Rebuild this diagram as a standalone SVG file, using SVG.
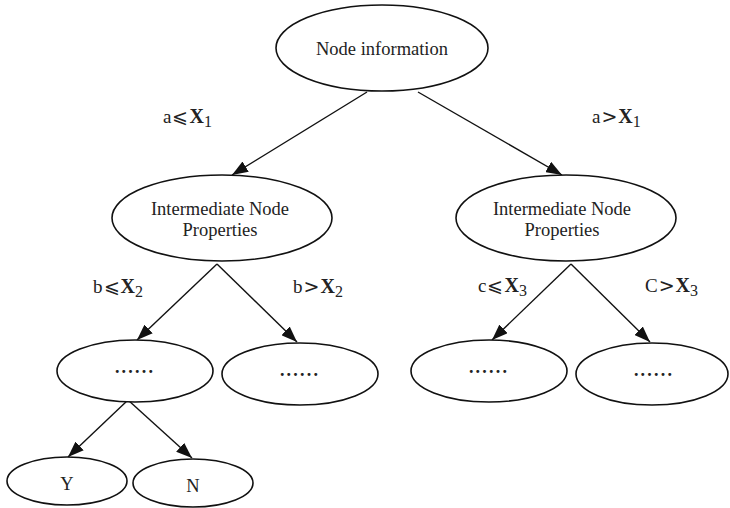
<svg xmlns="http://www.w3.org/2000/svg" width="730" height="508" viewBox="0 0 730 508">
  <defs>
    <marker id="arrow" markerUnits="userSpaceOnUse" markerWidth="16" markerHeight="12" refX="16" refY="6" orient="auto">
      <path d="M0,0 L16,6 L0,12 z" fill="#111"/>
    </marker>
  </defs>
  <style>
    ellipse { fill: #fff; stroke: #111; stroke-width: 1.6; }
    .lbl { font-family: "Liberation Serif", "Times New Roman", serif; font-size: 18.5px; fill: #222; text-anchor: middle; }
    .dots { font-family: "Liberation Serif", serif; font-size: 18px; font-weight: bold; fill: #222; text-anchor: middle; letter-spacing: 2.2px; }
    .cond { font-family: "Liberation Serif", "DejaVu Serif", "DejaVu Sans", serif; font-size: 19px; fill: #222; }
    .rel { font-family: "DejaVu Serif", "DejaVu Sans", serif; font-size: 19px; font-weight: 300; }
    .var { font-weight: bold; font-size: 20px; }
    .sub { font-size: 16px; }
    .edges line { stroke: #111; stroke-width: 1.4; marker-end: url(#arrow); }
  </style>

  <!-- connectors -->
  <g id="edges" class="edges">
    <line x1="367" y1="92" x2="232" y2="175"/>
    <line x1="418" y1="92" x2="562" y2="175"/>
    <line x1="217" y1="264" x2="137" y2="340"/>
    <line x1="217" y1="264" x2="297" y2="342"/>
    <line x1="571" y1="264" x2="492" y2="340"/>
    <line x1="571" y1="264" x2="650" y2="342"/>
    <line x1="128" y1="400" x2="68" y2="457"/>
    <line x1="128" y1="400" x2="192" y2="458"/>
  </g>

  <!-- branch conditions -->
  <g id="conditions" class="cond">
    <text x="163" y="123">a<tspan class="rel" dx="1">⩽</tspan><tspan class="var" dx="1">X</tspan><tspan class="sub" dy="4">1</tspan></text>
    <text x="592" y="123">a<tspan class="rel" dx="1">&gt;</tspan><tspan class="var" dx="1">X</tspan><tspan class="sub" dy="4">1</tspan></text>
    <text x="93" y="293">b<tspan class="rel" dx="1">⩽</tspan><tspan class="var" dx="1">X</tspan><tspan class="sub" dy="4">2</tspan></text>
    <text x="293" y="293">b<tspan class="rel" dx="1">&gt;</tspan><tspan class="var" dx="1">X</tspan><tspan class="sub" dy="4">2</tspan></text>
    <text x="478" y="292">c<tspan class="rel" dx="1">⩽</tspan><tspan class="var" dx="1">X</tspan><tspan class="sub" dy="4">3</tspan></text>
    <text x="645" y="292">C<tspan class="rel" dx="1">&gt;</tspan><tspan class="var" dx="1">X</tspan><tspan class="sub" dy="4">3</tspan></text>
  </g>

  <g id="root">
    <ellipse cx="382" cy="48" rx="106" ry="43"/>
    <text class="lbl" x="382" y="55">Node information</text>
  </g>

  <g id="mid-left">
    <ellipse cx="222" cy="218" rx="110" ry="43"/>
    <text class="lbl" x="220" y="215">Intermediate Node</text>
    <text class="lbl" x="220" y="236">Properties</text>
  </g>

  <g id="mid-right">
    <ellipse cx="566" cy="218" rx="110" ry="43"/>
    <text class="lbl" x="562" y="215">Intermediate Node</text>
    <text class="lbl" x="562" y="236">Properties</text>
  </g>

  <g id="leaf-ll">
    <ellipse cx="135" cy="371" rx="78" ry="31"/>
    <text class="dots" x="135" y="373">......</text>
  </g>

  <g id="leaf-lr">
    <ellipse cx="300" cy="374" rx="78" ry="31"/>
    <text class="dots" x="300" y="376">......</text>
  </g>

  <g id="leaf-rl">
    <ellipse cx="489" cy="371" rx="78" ry="31"/>
    <text class="dots" x="489" y="373">......</text>
  </g>

  <g id="leaf-rr">
    <ellipse cx="652" cy="374" rx="76" ry="31"/>
    <text class="dots" x="654" y="376">......</text>
  </g>

  <g id="yes">
    <ellipse cx="67" cy="481" rx="60" ry="24"/>
    <text class="lbl" x="67" y="490">Y</text>
  </g>

  <g id="no">
    <ellipse cx="193" cy="483" rx="60" ry="24"/>
    <text class="lbl" x="193" y="492">N</text>
  </g>
</svg>
